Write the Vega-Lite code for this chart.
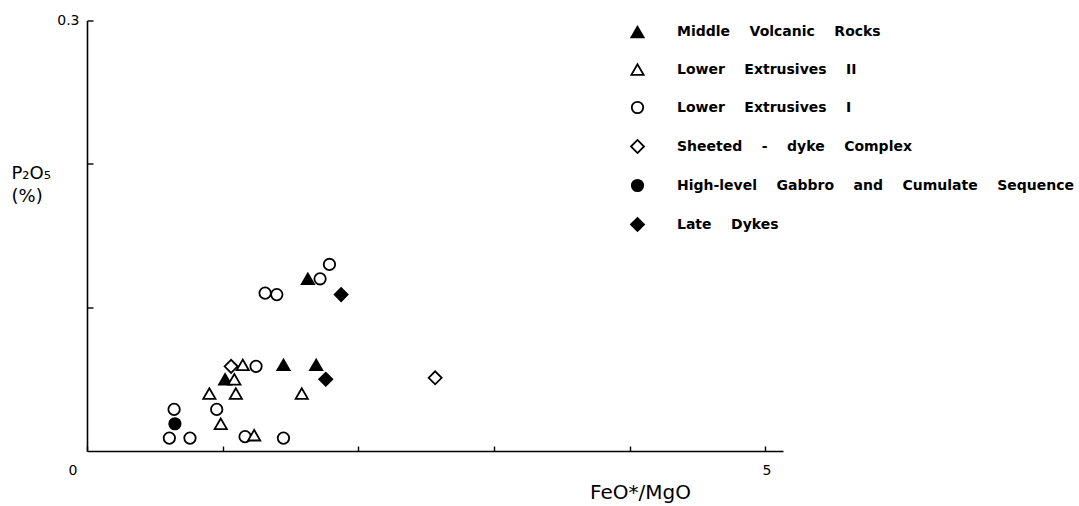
{
  "$schema": "https://vega.github.io/schema/vega-lite/v6.json",
  "autosize": "none",
  "width": 696,
  "height": 430.5,
  "padding": {"left": 87, "top": 20.5, "right": 296, "bottom": 55},
  "background": "white",
  "config": {
    "view": {"stroke": null},
    "font": "DejaVu Sans",
    "axis": {"domainColor": "black", "domainWidth": 1.6, "tickColor": "black", "tickWidth": 1.4, "grid": false, "labelColor": "black", "titleColor": "black", "labelFont": "DejaVu Sans", "titleFont": "DejaVu Sans"},
    "legend": {
      "orient": "none",
      "legendX": 543,
      "legendY": 4,
      "title": null,
      "labelFontSize": 14,
      "labelFontWeight": "bold",
      "labelFont": "DejaVu Sans",
      "labelColor": "black",
      "labelOffset": 32,
      "rowPadding": 18.5,
      "symbolStrokeWidth": 1.8,
      "labelLimit": 500
    }
  },
  "data": {
    "values": [
      {"x": 1.787, "y": 0.130, "group": "Lower Extrusives I"},
      {"x": 1.628, "y": 0.120, "group": "Middle Volcanic Rocks"},
      {"x": 1.718, "y": 0.120, "group": "Lower Extrusives I"},
      {"x": 1.313, "y": 0.110, "group": "Lower Extrusives I"},
      {"x": 1.399, "y": 0.109, "group": "Lower Extrusives I"},
      {"x": 1.873, "y": 0.109, "group": "Late Dykes"},
      {"x": 1.062, "y": 0.059, "group": "Sheeted - dyke Complex"},
      {"x": 1.148, "y": 0.060, "group": "Lower Extrusives II"},
      {"x": 1.246, "y": 0.059, "group": "Lower Extrusives I"},
      {"x": 1.448, "y": 0.060, "group": "Middle Volcanic Rocks"},
      {"x": 1.689, "y": 0.060, "group": "Middle Volcanic Rocks"},
      {"x": 1.018, "y": 0.050, "group": "Middle Volcanic Rocks"},
      {"x": 1.086, "y": 0.050, "group": "Lower Extrusives II"},
      {"x": 1.760, "y": 0.050, "group": "Late Dykes"},
      {"x": 0.902, "y": 0.040, "group": "Lower Extrusives II"},
      {"x": 1.097, "y": 0.040, "group": "Lower Extrusives II"},
      {"x": 1.583, "y": 0.040, "group": "Lower Extrusives II"},
      {"x": 0.642, "y": 0.029, "group": "Lower Extrusives I"},
      {"x": 0.956, "y": 0.029, "group": "Lower Extrusives I"},
      {"x": 0.648, "y": 0.019, "group": "High-level Gabbro and Cumulate Sequence"},
      {"x": 0.986, "y": 0.019, "group": "Lower Extrusives II"},
      {"x": 0.607, "y": 0.009, "group": "Lower Extrusives I"},
      {"x": 0.759, "y": 0.009, "group": "Lower Extrusives I"},
      {"x": 1.165, "y": 0.010, "group": "Lower Extrusives I"},
      {"x": 1.232, "y": 0.011, "group": "Lower Extrusives II"},
      {"x": 1.448, "y": 0.009, "group": "Lower Extrusives I"},
      {"x": 2.566, "y": 0.051, "group": "Sheeted - dyke Complex"}
    ]
  },
  "mark": {"type": "point", "filled": false, "strokeWidth": 1.8, "opacity": 1},
  "encoding": {
    "x": {
      "field": "x", "type": "quantitative",
      "scale": {"domain": [0, 5.13], "nice": false, "zero": false},
      "axis": {
        "values": [0, 1, 2, 3, 4, 5],
        "labelExpr": "datum.value == 0 ? '0' : datum.value == 5 ? '5' : ''",
        "tickSize": -5,
        "labelPadding": 17,
        "labelFontSize": 14,
        "labelOffset": {"condition": {"test": "datum.value == 0", "value": -19}, "value": 1},
        "title": "FeO*/MgO",
        "titleFontSize": 20,
        "titleFontWeight": "normal",
        "titleX": 553,
        "titleY": 47,
        "titleAlign": "center",
        "titleBaseline": "alphabetic"
      }
    },
    "y": {
      "field": "y", "type": "quantitative",
      "scale": {"domain": [0, 0.3], "nice": false, "zero": false},
      "axis": {
        "values": [0.1, 0.2, 0.3],
        "labelExpr": "datum.value == 0.3 ? '0.3' : ''",
        "tickSize": -6,
        "labelPadding": 14,
        "labelFontSize": 14,
        "title": ["P₂O₅", "(%)"],
        "titleFontSize": 18,
        "titleFontWeight": "normal",
        "titleAngle": 0,
        "titleAlign": "left",
        "titleBaseline": "alphabetic",
        "titleLineHeight": 23,
        "titleX": -76,
        "titleY": 158
      }
    },
    "shape": {
      "field": "group", "type": "nominal",
      "scale": {
        "domain": ["Middle Volcanic Rocks", "Lower Extrusives II", "Lower Extrusives I", "Sheeted - dyke Complex", "High-level Gabbro and Cumulate Sequence", "Late Dykes"],
        "range": ["triangle-up", "triangle-up", "circle", "diamond", "circle", "diamond"]
      },
      "legend": {"labelExpr": "replace(datum.label, regexp(' ', 'g'), '\u00a0\u00a0\u00a0\u00a0')"}
    },
    "fill": {
      "field": "group", "type": "nominal",
      "scale": {
        "domain": ["Middle Volcanic Rocks", "Lower Extrusives II", "Lower Extrusives I", "Sheeted - dyke Complex", "High-level Gabbro and Cumulate Sequence", "Late Dykes"],
        "range": ["black", "white", "white", "white", "black", "black"]
      },
      "legend": {"labelExpr": "replace(datum.label, regexp(' ', 'g'), '\u00a0\u00a0\u00a0\u00a0')"}
    },
    "stroke": {
      "field": "group", "type": "nominal",
      "scale": {
        "domain": ["Middle Volcanic Rocks", "Lower Extrusives II", "Lower Extrusives I", "Sheeted - dyke Complex", "High-level Gabbro and Cumulate Sequence", "Late Dykes"],
        "range": ["black", "black", "black", "black", "black", "black"]
      },
      "legend": {"labelExpr": "replace(datum.label, regexp(' ', 'g'), '\u00a0\u00a0\u00a0\u00a0')"}
    },
    "size": {
      "field": "group", "type": "nominal",
      "scale": {
        "type": "ordinal",
        "domain": ["Middle Volcanic Rocks", "Lower Extrusives II", "Lower Extrusives I", "Sheeted - dyke Complex", "High-level Gabbro and Cumulate Sequence", "Late Dykes"],
        "range": [150, 150, 130, 170, 130, 170]
      },
      "legend": {"labelExpr": "replace(datum.label, regexp(' ', 'g'), '\u00a0\u00a0\u00a0\u00a0')"}
    }
  }
}
